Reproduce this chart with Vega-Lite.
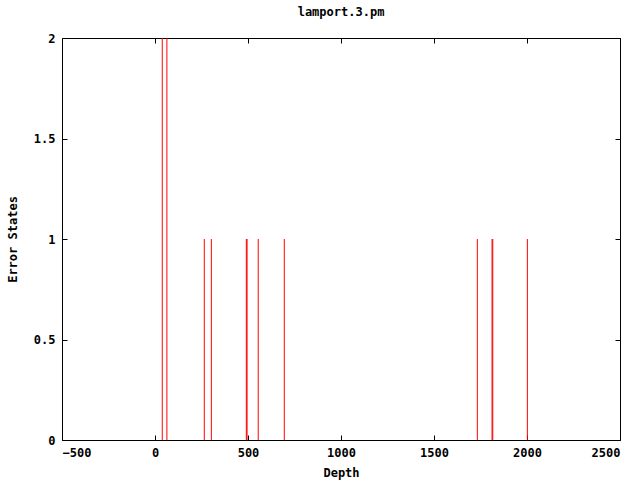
{
  "$schema": "https://vega.github.io/schema/vega-lite/v6.json",
  "autosize": {"type": "none"},
  "width": 558,
  "height": 402,
  "padding": {"left": 62, "top": 38, "right": 20, "bottom": 40},
  "background": "white",
  "title": {"text": "lamport.3.pm", "font": "DejaVu Sans Mono", "fontSize": 12, "fontWeight": "bold", "color": "black", "offset": 13},
  "config": {
    "view": {"stroke": "black", "strokeWidth": 1},
    "axis": {"labelFont": "DejaVu Sans Mono", "labelFontSize": 12, "labelFontWeight": "bold", "labelColor": "black", "titleFont": "DejaVu Sans Mono", "titleFontSize": 12, "titleFontWeight": "bold", "titleColor": "black", "grid": false, "domain": false, "tickColor": "black", "tickSize": -5, "tickWidth": 1}
  },
  "data": {"values": [
    {"depth": 39, "errors": 2},
    {"depth": 64, "errors": 2},
    {"depth": 265, "errors": 1},
    {"depth": 303, "errors": 1},
    {"depth": 491, "errors": 1},
    {"depth": 495, "errors": 1},
    {"depth": 555, "errors": 1},
    {"depth": 695, "errors": 1},
    {"depth": 1733, "errors": 1},
    {"depth": 1812, "errors": 1},
    {"depth": 1816, "errors": 1},
    {"depth": 2002, "errors": 1}
  ]},
  "layer": [
    {
      "mark": {"type": "rule", "color": "#ff0000", "strokeWidth": 1},
      "encoding": {
        "x": {"field": "depth", "type": "quantitative", "scale": {"domain": [-500, 2500], "nice": false}, "axis": {"title": "Depth", "format": "d", "values": [-500, 0, 500, 1000, 1500, 2000, 2500], "labelPadding": 12, "titlePadding": 9}},
        "y": {"field": "errors", "type": "quantitative", "scale": {"domain": [0, 2], "nice": false}, "axis": {"title": "Error States", "values": [0, 0.5, 1, 1.5, 2], "format": "~r", "labelPadding": 12, "titlePadding": 14}},
        "y2": {"datum": 0}
      }
    },
    {
      "mark": {"type": "rule", "opacity": 0},
      "encoding": {
        "x": {"field": "depth", "type": "quantitative", "scale": {"domain": [-500, 2500], "nice": false}, "axis": {"orient": "top", "title": null, "labels": false, "values": [-500, 0, 500, 1000, 1500, 2000, 2500]}},
        "y": {"field": "errors", "type": "quantitative", "scale": {"domain": [0, 2], "nice": false}, "axis": {"orient": "right", "title": null, "labels": false, "values": [0, 0.5, 1, 1.5, 2]}}
      }
    }
  ],
  "resolve": {"axis": {"x": "independent", "y": "independent"}}
}
